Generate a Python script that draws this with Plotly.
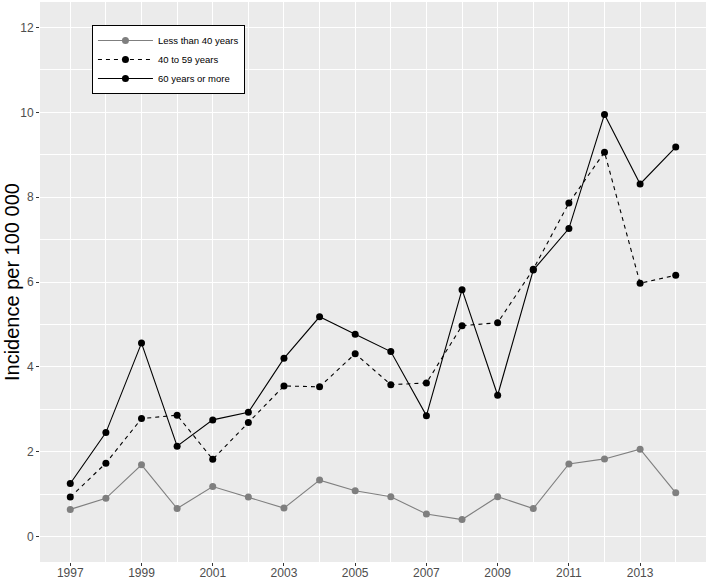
import plotly.graph_objects as go

years = list(range(1997, 2015))
under40 = [0.64, 0.90, 1.69, 0.66, 1.18, 0.93, 0.67, 1.33, 1.08, 0.94, 0.53, 0.40, 0.94, 0.66, 1.71, 1.83, 2.06, 1.03]
age40_59 = [0.93, 1.73, 2.78, 2.86, 1.82, 2.69, 3.55, 3.53, 4.31, 3.58, 3.62, 4.97, 5.04, 6.30, 7.86, 9.06, 5.97, 6.16]
age60plus = [1.25, 2.45, 4.56, 2.13, 2.75, 2.93, 4.20, 5.18, 4.77, 4.36, 2.85, 5.82, 3.33, 6.28, 7.26, 9.95, 8.31, 9.18]
series_names = ["Less than 40 years", "40 to 59 years", "60 years or more"]
xtick_vals = list(range(1997, 2014, 2))
ytick_vals = [0, 2, 4, 6, 8, 10, 12]
y_title = "Incidence per 100 000"

fig = go.Figure()
fig.add_trace(go.Scatter(x=years, y=under40, name=series_names[0], mode="lines+markers",
                         line=dict(color="#7f7f7f", width=1.1),
                         marker=dict(color="#7f7f7f", size=7)))
fig.add_trace(go.Scatter(x=years, y=age40_59, name=series_names[1], mode="lines+markers",
                         line=dict(color="black", width=1.1, dash="4px,4px"),
                         marker=dict(color="black", size=7)))
fig.add_trace(go.Scatter(x=years, y=age60plus, name=series_names[2], mode="lines+markers",
                         line=dict(color="black", width=1.1),
                         marker=dict(color="black", size=7)))

fig.update_layout(
    width=708, height=579,
    margin=dict(l=40, r=2, t=2, b=17, autoexpand=False),
    paper_bgcolor="white",
    plot_bgcolor="#EBEBEB",
    font=dict(family="Liberation Sans, Arial, sans-serif", color="#4d4d4d"),
    showlegend=True,
    legend=dict(x=0.078, y=0.959, xanchor="left", yanchor="top",
                bgcolor="white", bordercolor="black", borderwidth=1,
                font=dict(size=9.5, color="black"), tracegroupgap=0,
                itemwidth=55),
    xaxis=dict(range=[1996.15, 2014.85], tickvals=xtick_vals, automargin=False,
               showgrid=True, gridcolor="white", gridwidth=1.1,
               minor=dict(dtick=1, tick0=1997, showgrid=True, gridcolor="white", gridwidth=0.6),
               ticks="outside", ticklen=3, tickcolor="#333333",
               tickfont=dict(size=12, color="#4d4d4d"), ticklabelstandoff=-3,
               zeroline=False, showline=False),
    yaxis=dict(range=[-0.6, 12.6], tickvals=ytick_vals, automargin=False,
               showgrid=True, gridcolor="white", gridwidth=1.1,
               minor=dict(dtick=1, tick0=0, showgrid=True, gridcolor="white", gridwidth=0.6),
               ticks="outside", ticklen=3, tickcolor="#333333",
               tickfont=dict(size=12, color="#4d4d4d"),
               zeroline=False, showline=False),
    annotations=[dict(text=y_title, xref="paper", yref="paper", x=-0.042, y=0.5,
                      xanchor="center", yanchor="middle", textangle=-90, showarrow=False,
                      font=dict(size=20, color="black"))],
)

fig.write_html("out.html", config={"displayModeBar": False},
               post_script="document.body.style.margin='0';")
